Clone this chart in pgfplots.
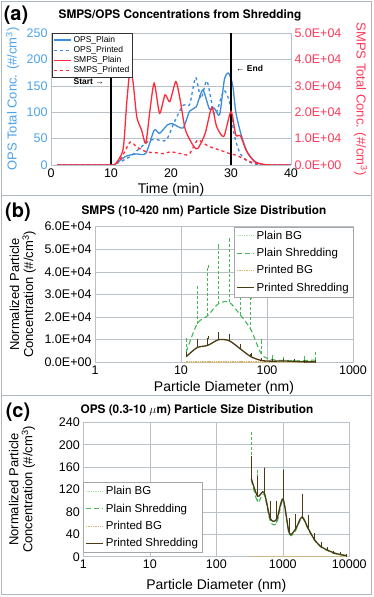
\documentclass[border=0pt]{standalone}
\usepackage{fontspec}
\setmainfont{Liberation Sans}
\newfontfamily\herosfont{TeX Gyre Heros}
\usepackage{pgfplots}
\pgfplotsset{compat=1.18}
\definecolor{opsblue}{HTML}{3C8CDC}
\definecolor{opslabel}{HTML}{4DA3EA}
\definecolor{smpsred}{HTML}{FF2A3A}
\definecolor{smpslabel}{HTML}{FF3A5A}
\definecolor{plaingreen}{HTML}{46B955}
\definecolor{bggreen}{HTML}{A6E3A6}
\definecolor{prtbrown}{HTML}{4A3A12}
\definecolor{bgtan}{HTML}{D9B36C}
\definecolor{gridgray}{HTML}{B9C0C6}
\definecolor{framegray}{HTML}{AEB6BE}

\pgfplotsset{
  /pgf/number format/assume math mode=true,
  xlstyle/.style={
    scale only axis,
    scaled y ticks=false,
    axis line style={gridgray},
    tick style={draw=none},
    grid style={gridgray, line width=0.5pt},
    tick label style={font=\fontsize{12.5}{13}\selectfont},
    xlabel style={font=\fontsize{14}{15}\selectfont},
    ylabel style={font=\fontsize{13}{14}\selectfont},
    legend cell align=left,
  },
  pslegend/.style={
    font=\fontsize{11.5}{12.5}\selectfont, draw=gray!70, fill=white,
    inner sep=2pt, row sep=3.5pt,
  },
}

\begin{document}
\begin{tikzpicture}[
  ptitle/.style={font=\herosfont\fontsize{11.8}{13}\selectfont\bfseries},
  plabel/.style={font=\herosfont\fontsize{20}{22}\selectfont\bfseries}]
\useasboundingbox (0,0) rectangle (373pt,597pt);
\fill[white] (0,0) rectangle (373pt,597pt);
% panel frames
\draw[framegray, line width=0.6pt] (1pt,402pt) rectangle (371pt,596pt);
\draw[framegray, line width=0.6pt] (1pt,202pt) rectangle (371pt,402pt);
\draw[framegray, line width=0.6pt] (1pt,3pt) rectangle (371pt,202pt);

% ---------------- (a) ----------------
\begin{axis}[xlstyle,
  at={(51pt,432pt)}, anchor=south west, width=240pt, height=132pt,
  xmin=0, xmax=40, ymin=0, ymax=250,
  xtick={0,10,20,30,40}, ytick={0,50,...,250},
  ymajorgrids, axis y line*=left, axis x line*=bottom,
  yticklabel style={opslabel},
  xlabel={Time (min)}, ylabel={OPS Total Conc. (\#/cm\textsuperscript{3})},
  ylabel style={opslabel, at={(axis description cs:-0.16,0.5)}, anchor=center},
  xlabel style={at={(axis description cs:0.5,-0.19)}, anchor=center},
]
\addplot[opsblue, line width=1.3pt, smooth, tension=0.4] coordinates {
 (1,0) (10,0) (10.6,1) (12.4,16) (14.1,21) (15.8,22) (17.2,66) (18.1,60)
 (19.4,76) (20.3,78) (22,70) (23.1,102) (24.2,110) (25.3,142) (26.4,106)
 (27.2,108) (28.1,95) (28.9,162) (29.6,174) (30.3,150) (30.8,100) (31.7,57)
 (32.8,22) (34.1,6) (35.2,1) (36.5,0) (40,0)
};
\addplot[opsblue, line width=1.3pt, dashed, smooth, tension=0.4] coordinates {
 (1,0) (10,0) (10.6,1) (13.2,16) (14.8,32) (16.5,47) (17.6,48) (19.2,47)
 (20.5,80) (22,113) (23.1,114) (24.1,166) (25,126) (26,159) (27.3,95)
 (28.8,141) (29.8,117) (30.5,60) (31.5,22) (33,6) (35,0) (40,0)
};
\addplot[black, line width=1.3pt] coordinates {(10,0) (10,250)};
\addplot[black, line width=1.3pt] coordinates {(30,0) (30,250)};
\node[font=\fontsize{8.5}{9}\selectfont\bfseries] at (axis cs:6.3,158) {Start →};
\node[font=\fontsize{8.5}{9}\selectfont\bfseries] at (axis cs:33.1,183) {← End};
\end{axis}

\begin{axis}[xlstyle,
  at={(51pt,432pt)}, anchor=south west, width=240pt, height=132pt,
  xmin=0, xmax=40, ymin=0, ymax=50000,
  axis x line=none, axis y line*=right,
  ytick={0,10000,20000,30000,40000,50000},
  yticklabels={0.0E+00,1.0E+04,2.0E+04,3.0E+04,4.0E+04,5.0E+04},
  yticklabel style={smpslabel},
  ylabel={SMPS Total Conc. (\#/cm\textsuperscript{3})},
  ylabel style={smpslabel, rotate=180, at={(axis description cs:1.29,0.5)}, anchor=center},
  legend style={font=\fontsize{8.5}{9}\selectfont, draw=black!80, fill=white,
    inner sep=1pt, row sep=-1.5pt, at={(axis description cs:0.004,1)}, anchor=north west},
]
\addlegendimage{opsblue, line width=1.3pt}
\addlegendentry{OPS\_Plain}
\addlegendimage{opsblue, line width=1.3pt, dashed}
\addlegendentry{OPS\_Printed}
\addplot[smpsred, line width=1.3pt, smooth, tension=0.4] coordinates {
 (1,0) (10,0) (10.6,0) (12,5700) (12.6,23000) (13.2,36700) (13.7,31000)
 (14.3,18200) (15.1,13200) (15.8,8200) (16.5,20800) (17.2,31000) (18.1,19600)
 (19,26600) (19.8,24000) (20.8,31600) (21.5,25000) (22.4,13300) (23.8,7000)
 (24.5,6300) (25.7,12000) (26.8,21900) (27.6,14600) (28.8,10800) (30,20300)
 (30.8,11400) (31.6,11000) (32.5,5700) (33.9,1300) (35.5,200) (37,0) (40,0)
};
\addlegendentry{SMPS\_Plain}
\addplot[smpsred, line width=1.3pt, dashed, smooth, tension=0.4] coordinates {
 (1,0) (10,0) (10.6,0) (11.8,3000) (13.2,8700) (14.3,6800) (15.9,5000)
 (17.6,4600) (18.8,4300) (19.9,5000) (21.6,4300) (23,4000) (24.4,9400)
 (25.5,8100) (26.6,6800) (28.2,5600) (29.8,4300) (30.9,3700) (32.6,1800)
 (34.3,500) (36,0) (40,0)
};
\addlegendentry{SMPS\_Printed}
\end{axis}
\node[ptitle] at (180pt,582pt) {SMPS/OPS Concentrations from Shredding};
\node[plabel] at (16pt,582pt) {(a)};

% ---------------- (b) ----------------
\begin{axis}[xlstyle,
  at={(95pt,234.7pt)}, anchor=south west, width=258pt, height=135.6pt,
  xmode=log, log basis x=10, xmin=1, xmax=1000,
  ymin=0, ymax=60000,
  xtick={1,10,100,1000}, xticklabels={1,10,100,1000},
  ytick={0,10000,20000,30000,40000,50000,60000},
  yticklabels={0.0E+00,1.0E+04,2.0E+04,3.0E+04,4.0E+04,5.0E+04,6.0E+04},
  grid=major,
  xlabel={Particle Diameter (nm)},
  ylabel={Normalized Particle\\Concentration (\#/cm\textsuperscript{3})},
  ylabel style={align=center, at={(axis description cs:-0.28,0.5)}, anchor=center},
  xlabel style={at={(axis description cs:0.5,-0.19)}, anchor=center},
  legend style={pslegend, at={(axis description cs:1,1)}, anchor=north east},
]
\addplot[bggreen, line width=1.3pt, densely dotted] coordinates {
 (11.5,300) (15.4,250) (20.5,250) (27.4,200) (36.5,200) (48.7,200) (64.9,150)
 (86.6,150) (115.5,100) (154,100) (205,100) (274,100) (365,100)
};
\addlegendentry{Plain BG}
\addplot[plaingreen, line width=1.1pt, dash pattern=on 5pt off 3pt, smooth, tension=0.5,
  error bars/.cd, y dir=plus, y explicit,
  error bar style={plaingreen, line width=0.8pt, dash pattern=on 3pt off 2pt},
  error mark options={plaingreen, solid, mark size=1.5pt}] coordinates {
 (11.5,4500) +- (0,5500)
 (15.4,17000) +- (0,16000)
 (20.5,20700) +- (0,21900)
 (27.4,26000) +- (0,25600)
 (36.5,26500) +- (0,27700)
 (48.7,21000) +- (0,24900)
 (64.9,14500) +- (0,14100)
 (86.6,3500) +- (0,6000)
 (115.5,1200) +- (0,1300)
 (154,800) +- (0,700)
 (205,600) +- (0,400)
 (274,800) +- (0,1200)
 (365,1000) +- (0,3000)
};
\addlegendentry{Plain Shredding}
\addplot[bgtan, line width=1.3pt, densely dotted] coordinates {
 (11.5,100) (15.4,100) (20.5,100) (27.4,100) (36.5,100) (48.7,100) (64.9,100)
 (86.6,100) (115.5,100) (154,100) (205,100) (274,100) (365,100)
};
\addlegendentry{Printed BG}
\addplot[prtbrown, line width=1.3pt, smooth, tension=0.5,
  error bars/.cd, y dir=plus, y explicit,
  error bar style={prtbrown, line width=0.8pt},
  error mark options={prtbrown, mark size=1.5pt}] coordinates {
 (11.5,2500) +- (0,1500)
 (15.4,6500) +- (0,3300)
 (20.5,7500) +- (0,3300)
 (27.4,10000) +- (0,2700)
 (36.5,9500) +- (0,2500)
 (48.7,6000) +- (0,1500)
 (64.9,2500) +- (0,1000)
 (86.6,800) +- (0,400)
 (115.5,500) +- (0,300)
 (154,600) +- (0,300)
 (205,400) +- (0,200)
 (274,200) +- (0,100)
 (365,200) +- (0,100)
};
\addlegendentry{Printed Shredding}
\end{axis}
\node[ptitle] at (204pt,386pt) {SMPS (10-420 nm) Particle Size Distribution};
\node[plabel] at (18pt,385pt) {(b)};

% ---------------- (c) ----------------
\begin{axis}[xlstyle,
  at={(83.3pt,40.3pt)}, anchor=south west, width=266pt, height=134.4pt,
  xmode=log, log basis x=10, xmin=1, xmax=10000,
  ymin=0, ymax=240,
  xtick={1,10,100,1000,10000}, xticklabels={1,10,100,1000,10000},
  ytick={0,40,...,240},
  grid=major,
  xlabel={Particle Diameter (nm)},
  ylabel={Normalized Particle\\Concentration (\#/cm\textsuperscript{3})},
  ylabel style={align=center, at={(axis description cs:-0.23,0.5)}, anchor=center},
  xlabel style={at={(axis description cs:0.5,-0.22)}, anchor=center},
  legend style={pslegend, at={(axis description cs:0,0.03)}, anchor=south west},
]
\addplot[bggreen, line width=1.3pt, densely dotted] coordinates {
 (337,0.5) (419,0.5) (522,0.5) (650,0.5) (809,0.5) (1007,0.5) (1254,0.5) (1562,0.5)
 (1944,0.5) (2421,0.5) (3014,0.5) (3752,0.5) (4672,0.5) (5816,0.5) (7241,0.5) (9016,0.5)
};
\addlegendentry{Plain BG}
\addplot[plaingreen, line width=1.1pt, dash pattern=on 5pt off 3pt, smooth, tension=0.5,
  error bars/.cd, y dir=plus, y explicit,
  error bar style={plaingreen, line width=0.8pt, dash pattern=on 3pt off 2pt},
  error mark options={plaingreen, solid, mark size=1.5pt}] coordinates {
 (337,137) +- (0,83)
 (419,98) +- (0,54)
 (522,112) +- (0,45)
 (650,63) +- (0,34)
 (809,60) +- (0,37)
 (1007,100) +- (0,54)
 (1254,40) +- (0,26)
 (1562,47) +- (0,26)
 (1944,70) +- (0,39)
 (2421,48) +- (0,22)
 (3014,29) +- (0,10)
 (3752,17) +- (0,6)
 (4672,11) +- (0,3)
 (5816,6) +- (0,2)
 (7241,3.5) +- (0,1.5)
 (9016,2) +- (0,1)
};
\addlegendentry{Plain Shredding}
\addplot[bgtan, line width=1.3pt, densely dotted] coordinates {
 (337,0.3) (419,0.3) (522,0.3) (650,0.3) (809,0.3) (1007,0.3) (1254,0.3) (1562,0.3)
 (1944,0.3) (2421,0.3) (3014,0.3) (3752,0.3) (4672,0.3) (5816,0.3) (7241,0.3) (9016,0.3)
};
\addlegendentry{Printed BG}
\addplot[prtbrown, line width=1.3pt, smooth, tension=0.5,
  error bars/.cd, y dir=plus, y explicit,
  error bar style={prtbrown, line width=0.8pt},
  error mark options={prtbrown, mark size=1.5pt}] coordinates {
 (337,139) +- (0,39)
 (419,108) +- (0,34)
 (522,115) +- (0,40)
 (650,68) +- (0,29)
 (809,67) +- (0,30)
 (1007,103) +- (0,50)
 (1254,42) +- (0,24)
 (1562,50) +- (0,23)
 (1944,71) +- (0,39)
 (2421,50) +- (0,21)
 (3014,30) +- (0,10)
 (3752,18) +- (0,6)
 (4672,12) +- (0,2)
 (5816,7) +- (0,1)
 (7241,4) +- (0,1)
 (9016,2) +- (0,1)
};
\addlegendentry{Printed Shredding}
\end{axis}
\node[ptitle] at (197pt,187pt) {OPS (0.3-10 $\mu$m) Particle Size Distribution};
\node[plabel] at (18pt,185pt) {(c)};
\end{tikzpicture}
\end{document}
